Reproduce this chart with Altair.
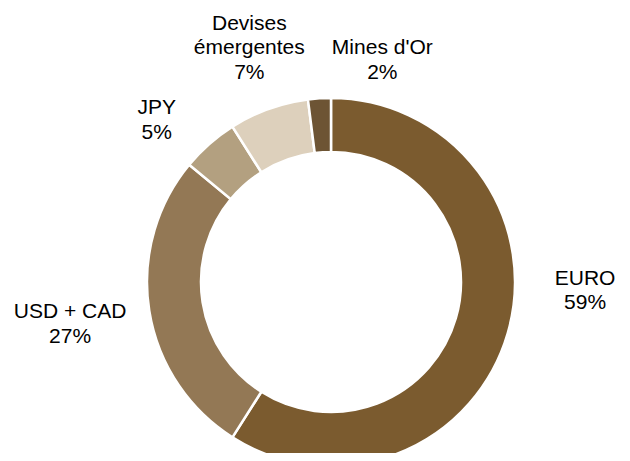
import math
import altair as alt
import pandas as pd

categories = ["EURO", "USD + CAD", "JPY", "Devises émergentes", "Mines d'Or"]
labels = ["EURO\n59%", "USD + CAD\n27%", "JPY\n5%", "Devises\némergentes\n7%", "Mines d'Or\n2%"]
values = [59, 27, 5, 7, 2]
order = [1, 2, 3, 4, 5]
colors = ["#7B5B2F", "#937855", "#B3A080", "#DDD0BC", "#6D5434"]

df = pd.DataFrame({"cat": categories, "label": labels, "value": values, "ord": order})

CX, CY = 323, 274
TAU = 2 * math.pi
theta_scale = alt.Scale(domain=[0, 100], range=[0, TAU])

arcs = alt.Chart(df).mark_arc(
    outerRadius=184, innerRadius=130, stroke="white", strokeWidth=2.5
).encode(
    theta=alt.Theta("value:Q", stack=True, scale=theta_scale),
    order=alt.Order("ord:Q"),
    color=alt.Color("cat:N", scale=alt.Scale(domain=categories, range=colors), legend=None),
    x=alt.value(CX),
    y=alt.value(CY),
)

# label nudges (style only), keyed by category
nudges = {
    "EURO": (14, -73),
    "USD + CAD": (-14, -9),
    "JPY": (-9, 14),
    "Devises émergentes": (3, -23),
    "Mines d'Or": (67, 16),
}

text_base = alt.Chart(df).transform_window(
    cum="sum(value)", sort=[alt.SortField("ord")]
).transform_calculate(
    mid="datum.cum - datum.value / 2"
)

layers = [arcs]
for c in categories:
    dx, dy = nudges[c]
    layers.append(
        text_base.transform_filter(alt.datum.cat == c).mark_text(
            radius=250, dx=dx, dy=dy, font="Liberation Sans", fontSize=21,
            lineHeight=24.5, lineBreak="\n", color="black",
            align="center", baseline="middle",
        ).encode(
            theta=alt.Theta("mid:Q", scale=theta_scale),
            text="label:N",
            x=alt.value(CX),
            y=alt.value(CY),
        )
    )

chart = alt.layer(*layers).properties(
    width=614, height=445, padding=0,
    autosize=alt.AutoSizeParams(type="none"),
).configure_view(stroke=None)

chart.save("out.html", embed_options={"renderer": "svg", "actions": False})
